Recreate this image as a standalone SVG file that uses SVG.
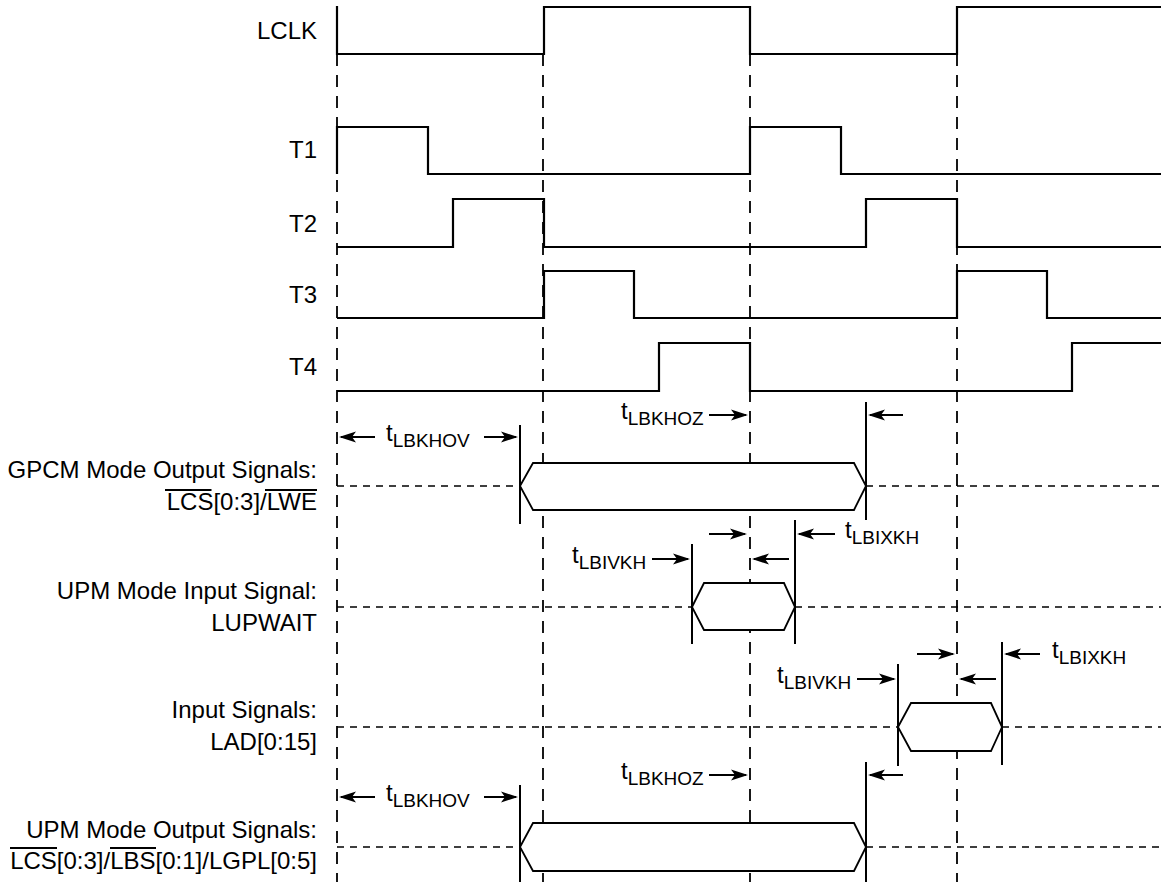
<svg xmlns="http://www.w3.org/2000/svg" width="1161" height="882" viewBox="0 0 1161 882">
<style>
.lbl{font-family:"Liberation Sans",Arial,Helvetica,sans-serif;font-size:24px;fill:#000;text-anchor:end}
.tl{font-family:"Liberation Sans",Arial,Helvetica,sans-serif;font-size:24px;fill:#000}
.sub{font-size:19px}
.ovl{fill:none;stroke:#000;stroke-width:1.8}
.sig{fill:none;stroke:#000;stroke-width:2.2;stroke-linejoin:miter}
.grid{fill:none;stroke:#000;stroke-width:1.8;stroke-dasharray:12 9}
.dot{fill:none;stroke:#000;stroke-width:1.5;stroke-dasharray:7 6}
.bus{fill:#fff;stroke:#000;stroke-width:1.8}
.mk{fill:none;stroke:#000;stroke-width:2}
.arr{fill:none;stroke:#000;stroke-width:2;marker-end:url(#ah)}
</style>
<defs>
<marker id="ah" markerUnits="userSpaceOnUse" markerWidth="19" markerHeight="14" viewBox="0 0 19 14" refX="15" refY="7" orient="auto">
<path d="M0,1.5 L17,7 L0,12.5 L4,7 Z" fill="#000"/>
</marker>
</defs>
<rect width="1161" height="882" fill="#fff"/>

<g id="grid">
<path class="grid" d="M337,54 V882 M543,54 V882 M750,54 V882 M957,54 V882"/>
</g>

<g id="levels">
<path class="dot" d="M337,486 H520 M866,486 H1161 M337,607 H692 M795,607 H1161 M337,727 H898 M1002,727 H1161 M337,847 H520 M866,847 H1161"/>
</g>

<g id="LCLK">
<text class="lbl" x="317" y="39">LCLK</text>
<path class="sig" d="M337,6 V54 H544 V7 H750 V54 H957 V7 H1161"/>
</g>
<g id="T1">
<text class="lbl" x="317" y="158">T1</text>
<path class="sig" d="M337,174 V127 H428 V174 H750 V127 H841 V174 H1161"/>
</g>
<g id="T2">
<text class="lbl" x="317" y="232">T2</text>
<path class="sig" d="M337,247 H453 V199 H544 V247 H866 V199 H957 V247 H1161"/>
</g>
<g id="T3">
<text class="lbl" x="317" y="303">T3</text>
<path class="sig" d="M337,318 H544 V271 H634 V318 H957 V271 H1047 V318 H1161"/>
</g>
<g id="T4">
<text class="lbl" x="317" y="375">T4</text>
<path class="sig" d="M337,391 H659 V343 H750 V391 H1072 V343 H1161"/>
</g>

<g id="GPCM">
<text class="lbl" x="317" y="478">GPCM Mode Output Signals:</text>
<text class="lbl" x="317" y="510">LCS[0:3]/LWE</text>
<path class="ovl" d="M165,490 H211.5 M265,490 H317"/>
<polygon class="bus" points="520,486 533,463 854,463 866,486 854,510 533,510"/>
</g>

<g id="LUPWAIT">
<text class="lbl" x="317" y="599">UPM Mode Input Signal:</text>
<text class="lbl" x="317" y="631">LUPWAIT</text>
<polygon class="bus" points="692,607 704,583 784,583 795,607 784,630 704,630"/>
</g>

<g id="LAD">
<text class="lbl" x="317" y="718">Input Signals:</text>
<text class="lbl" x="317" y="750">LAD[0:15]</text>
<polygon class="bus" points="898,727 911,703 991,703 1002,727 991,751 911,751"/>
</g>

<g id="UPM">
<text class="lbl" x="317" y="838">UPM Mode Output Signals:</text>
<text class="lbl" x="317" y="869">LCS[0:3]/LBS[0:1]/LGPL[0:5]</text>
<path class="ovl" d="M10,848 H57 M110,848 H156"/>
<polygon class="bus" points="520,847 533,823 854,823 866,847 854,871 533,871"/>
</g>

<g id="markers">
<path class="mk" d="M520,425 V524 M866,402 V520 M692,544 V644 M795,520 V644 M898,664 V766 M1002,642 V765 M520,785 V882 M866,762 V882"/>
</g>

<g id="connectors">
<line class="arr" x1="375" y1="437" x2="341" y2="437"/>
<line class="arr" x1="484" y1="437" x2="516" y2="437"/>
<line class="arr" x1="709" y1="415" x2="746" y2="415"/>
<line class="arr" x1="903" y1="415" x2="870" y2="415"/>
<line class="arr" x1="709" y1="534" x2="745" y2="534"/>
<line class="arr" x1="789" y1="559" x2="754" y2="559"/>
<line class="arr" x1="835" y1="534" x2="799" y2="534"/>
<line class="arr" x1="652" y1="559" x2="688" y2="559"/>
<line class="arr" x1="917" y1="654" x2="953" y2="654"/>
<line class="arr" x1="996" y1="679" x2="961" y2="679"/>
<line class="arr" x1="1040" y1="654" x2="1006" y2="654"/>
<line class="arr" x1="857" y1="679" x2="894" y2="679"/>
<line class="arr" x1="709" y1="775" x2="746" y2="775"/>
<line class="arr" x1="903" y1="775" x2="870" y2="775"/>
<line class="arr" x1="375" y1="797" x2="341" y2="797"/>
<line class="arr" x1="484" y1="797" x2="516" y2="797"/>
</g>

<g id="timing-labels">
<text class="tl" x="386" y="441">t<tspan class="sub" dy="6">LBKHOV</tspan></text>
<text class="tl" x="621" y="419">t<tspan class="sub" dy="6">LBKHOZ</tspan></text>
<text class="tl" x="845" y="538">t<tspan class="sub" dy="6">LBIXKH</tspan></text>
<text class="tl" x="572" y="563">t<tspan class="sub" dy="6">LBIVKH</tspan></text>
<text class="tl" x="1052" y="658">t<tspan class="sub" dy="6">LBIXKH</tspan></text>
<text class="tl" x="777" y="683">t<tspan class="sub" dy="6">LBIVKH</tspan></text>
<text class="tl" x="621" y="779">t<tspan class="sub" dy="6">LBKHOZ</tspan></text>
<text class="tl" x="386" y="801">t<tspan class="sub" dy="6">LBKHOV</tspan></text>
</g>
</svg>
